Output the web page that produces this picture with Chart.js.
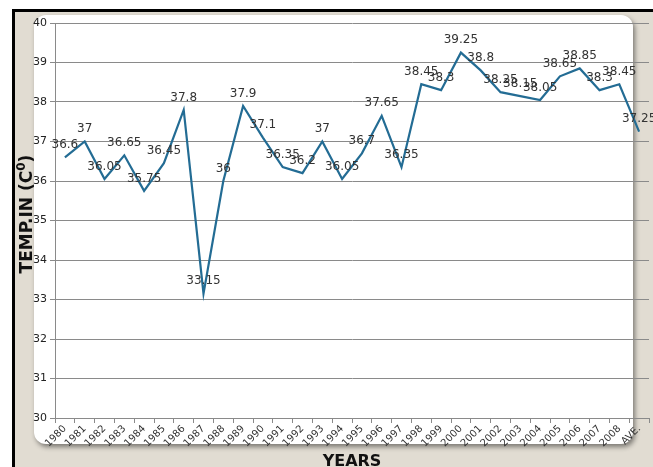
<!DOCTYPE html>
<html>
<head>
<meta charset="utf-8">
<script src="https://cdn.jsdelivr.net/npm/chart.js@4.4.0/dist/chart.umd.min.js"></script>
<style>
  html, body { margin: 0; padding: 0; background: #fff; }
  #wrap { width: 653px; height: 467px; position: relative; }
</style>
</head>
<body>
<div id="wrap"><canvas id="myChart"></canvas></div>
<script>
/* chart data */
const years = ["1980", "1981", "1982", "1983", "1984", "1985", "1986", "1987", "1988", "1989",
    "1990", "1991", "1992", "1993", "1994", "1995", "1996", "1997", "1998", "1999",
    "2000", "2001", "2002", "2003", "2004", "2005", "2006", "2007", "2008", "AVE."];

const temps = [36.6, 37, 36.05, 36.65, 35.75, 36.45, 37.8, 33.15, 36, 37.9,
    37.1, 36.35, 36.2, 37, 36.05, 36.7, 37.65, 36.35, 38.45, 38.3,
    39.25, 38.8, 38.25, 38.15, 38.05, 38.65, 38.85, 38.3, 38.45, 37.25];

const yMin = 30;
const yMax = 40;

const ctx = document.getElementById("myChart");

/* beige frame + white rounded panel behind the chart */
const backdrop = {
    id: 'backdrop',
    beforeDraw(chart) {
        const c = chart.ctx;
        c.save();
        c.fillStyle = '#ffffff';
        c.fillRect(0, 0, chart.width, chart.height);
        c.fillStyle = '#000000';
        c.fillRect(12, 9, chart.width - 12, chart.height - 9);
        c.fillStyle = '#e1dcd2';
        c.fillRect(15, 12, chart.width - 15, chart.height - 12);
        c.shadowColor = 'rgba(0,0,0,0.45)';
        c.shadowBlur = 5;
        c.shadowOffsetX = 2;
        c.shadowOffsetY = 3;
        c.fillStyle = '#ffffff';
        c.beginPath();
        c.roundRect(34, 15, 599, 429, 12);
        c.fill();
        c.restore();
    },
    afterDraw(chart) {
        const c = chart.ctx;
        c.save();
        c.fillStyle = '#111';
        // x title
        c.font = 'bold 16px "DejaVu Sans"';
        c.textAlign = 'center';
        c.textBaseline = 'middle';
        c.fillText('YEARS', 352, 462);
        // y title with superscript
        c.translate(26, 214);
        c.rotate(-Math.PI / 2);
        const big = 'bold 17px "DejaVu Sans"';
        const small = 'bold 12px "DejaVu Sans"';
        c.font = big;
        const a = 'TEMP.IN (C', b = ')';
        const wa = c.measureText(a).width, wb = c.measureText(b).width;
        c.font = small;
        const ws = c.measureText('0').width;
        let x = -(wa + ws + wb) / 2;
        c.textAlign = 'left';
        c.textBaseline = 'alphabetic';
        c.font = big;
        c.fillText(a, x, 6);
        x += wa;
        c.font = small;
        c.fillText('0', x, -1);
        x += ws;
        c.font = big;
        c.fillText(b, x, 6);
        c.restore();
    }
};

/* value labels above each point */
const valueLabels = {
    id: 'valueLabels',
    afterDatasetsDraw(chart) {
        const c = chart.ctx;
        const meta = chart.getDatasetMeta(0);
        c.save();
        c.font = '12px "DejaVu Sans"';
        c.fillStyle = '#333';
        c.textAlign = 'center';
        c.textBaseline = 'middle';
        meta.data.forEach((pt, i) => {
            c.fillText(String(temps[i]), pt.x, pt.y - 12.5);
        });
        c.restore();
    }
};

var tempChart = new Chart(ctx, {
    type: 'line',
    data: {
        labels: years,
        datasets: [{
            data: temps,
            borderColor: '#236c94',
            borderWidth: 2.2,
            pointRadius: 0,
            tension: 0,
            fill: false
        }]
    },
    options: {
        responsive: true,
        maintainAspectRatio: false,
        animation: false,
        layout: {
            padding: { top: 23, right: 4, left: 0, bottom: 0 }
        },
        scales: {
            x: {
                offset: true,
                grid: {
                    offset: true,
                    drawOnChartArea: false,
                    drawTicks: true,
                    tickLength: 5,
                    color: '#8a8a8a'
                },
                border: { color: '#8a8a8a' },
                ticks: {
                    autoSkip: false,
                    minRotation: 45,
                    maxRotation: 45,
                    padding: 0,
                    color: '#333',
                    font: { family: 'DejaVu Sans', size: 10 }
                },
                afterFit(scale) { scale.height = 49; }
            },
            y: {
                min: yMin,
                max: yMax,
                grid: {
                    color: '#8a8a8a',
                    tickLength: 5
                },
                border: { color: '#8a8a8a' },
                ticks: {
                    stepSize: 1,
                    padding: 3,
                    color: '#222',
                    font: { family: 'DejaVu Sans', size: 11 }
                },
                afterFit(scale) { scale.width = 55; }
            }
        },
        plugins: {
            legend: { display: false },
            tooltip: { enabled: false }
        }
    },
    plugins: [backdrop, valueLabels]
});
</script>
</body>
</html>
